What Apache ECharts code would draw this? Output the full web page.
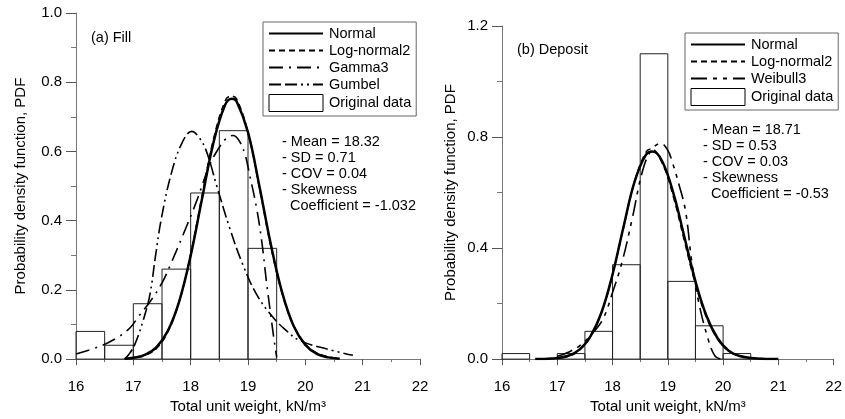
<!DOCTYPE html>
<html>
<head>
<meta charset="utf-8">
<script src="https://cdn.jsdelivr.net/npm/echarts@6/dist/echarts.min.js"></script>
<style>
  html, body { margin: 0; padding: 0; background: #fff; }
  #chart { width: 845px; height: 419px; }
</style>
</head>
<body>
<div id="chart"></div>
<script>
// histogram bins (kN/m3) and heights
const binStart = [16, 16.5, 17, 17.5, 18, 18.5, 19, 19.5, 20];
const binEnd = [16.5, 17, 17.5, 18, 18.5, 19, 19.5, 20, 20.5];
const fillHist = [0.08, 0.04, 0.16, 0.26, 0.48, 0.66, 0.32, 0, 0];
const depositHist = [0.02, 0, 0.02, 0.10, 0.34, 1.10, 0.28, 0.12, 0.02];

// (a) Fill curves
const fillNormal = [[16.85, 0.001], [17.0, 0.004], [17.2, 0.012], [17.4, 0.034], [17.6, 0.081], [17.8, 0.167],
  [18.0, 0.299], [18.2, 0.465], [18.4, 0.627], [18.6, 0.734], [18.72, 0.752], [18.8, 0.745], [19.0, 0.655],
  [19.2, 0.499], [19.4, 0.330], [19.6, 0.190], [19.8, 0.094], [20.0, 0.041], [20.2, 0.015], [20.4, 0.005], [20.6, 0.001]];
const fillLognormal = [[16.9, 0.001], [17.0, 0.003], [17.2, 0.010], [17.4, 0.030], [17.6, 0.078], [17.8, 0.166],
  [18.0, 0.303], [18.2, 0.473], [18.4, 0.637], [18.6, 0.746], [18.7, 0.760], [18.8, 0.752], [19.0, 0.655],
  [19.2, 0.494], [19.4, 0.324], [19.6, 0.187], [19.8, 0.095], [20.0, 0.043], [20.2, 0.018], [20.4, 0.007], [20.6, 0.002]];
const fillGamma = [[16.0, 0.015], [16.4, 0.036], [16.7, 0.060], [16.94, 0.090], [17.1, 0.125], [17.3, 0.168],
  [17.5, 0.220], [17.64, 0.270], [17.87, 0.360], [18.1, 0.455], [18.33, 0.560], [18.5, 0.612], [18.62, 0.637],
  [18.74, 0.646], [18.85, 0.630], [18.95, 0.590], [19.03, 0.531], [19.15, 0.436], [19.24, 0.340], [19.32, 0.226],
  [19.38, 0.149], [19.44, 0.073], [19.5, 0.005]];
const fillGumbel = [[16.85, 0.0], [16.95, 0.020], [17.03, 0.044], [17.17, 0.111], [17.29, 0.187], [17.38, 0.290],
  [17.49, 0.407], [17.67, 0.541], [17.85, 0.625], [18.02, 0.658], [18.15, 0.640], [18.28, 0.598], [18.45, 0.503],
  [18.68, 0.379], [18.91, 0.273], [19.15, 0.187], [19.44, 0.120], [19.67, 0.082], [19.9, 0.054], [20.4, 0.028],
  [20.83, 0.011]];

// (b) Deposit curves
const depNormal = [[16.6, 0.0], [16.9, 0.002], [17.2, 0.012], [17.4, 0.034], [17.6, 0.082], [17.8, 0.168],
  [18.0, 0.305], [18.2, 0.478], [18.4, 0.640], [18.6, 0.735], [18.73, 0.748], [18.9, 0.712], [19.1, 0.598],
  [19.3, 0.440], [19.5, 0.280], [19.7, 0.155], [19.9, 0.075], [20.1, 0.030], [20.3, 0.011], [20.6, 0.002], [21.0, 0.0]];
const depLognormal = [[16.9, 0.001], [17.2, 0.010], [17.4, 0.032], [17.6, 0.080], [17.8, 0.170], [18.0, 0.305],
  [18.2, 0.475], [18.4, 0.640], [18.6, 0.745], [18.7, 0.757], [18.9, 0.705], [19.1, 0.585], [19.3, 0.425],
  [19.5, 0.270], [19.7, 0.150], [19.9, 0.072], [20.1, 0.030], [20.3, 0.012], [20.6, 0.003], [21.0, 0.0]];
const depWeibull = [[17.0, 0.010], [17.2, 0.025], [17.4, 0.047], [17.6, 0.085], [17.82, 0.142], [18.0, 0.240],
  [18.18, 0.356], [18.36, 0.510], [18.54, 0.676], [18.7, 0.752], [18.87, 0.777], [19.0, 0.752], [19.08, 0.710],
  [19.2, 0.630], [19.32, 0.534], [19.43, 0.356], [19.55, 0.213], [19.73, 0.071], [19.85, 0.012], [19.95, 0.0]];

const xTicks = [16, 17, 18, 19, 20, 21, 22];

const FONT = 'Liberation Sans, Arial, sans-serif';
const chart = echarts.init(document.getElementById('chart'), null, { renderer: 'canvas' });

function histData(h) {
  const out = [];
  h.forEach((v, i) => { if (v > 0) out.push([binStart[i], binEnd[i], v]); });
  return out;
}

function renderBar(params, api) {
  const a = api.coord([api.value(0), api.value(2)]);
  const b = api.coord([api.value(1), 0]);
  return {
    type: 'rect',
    shape: { x: a[0], y: a[1], width: b[0] - a[0], height: b[1] - a[1] },
    style: { fill: 'none', stroke: '#222', lineWidth: 1 },
  };
}

function xAxis(idx) {
  return {
    type: 'value', gridIndex: idx, min: xTicks[0], max: xTicks[xTicks.length - 1], interval: 1,
    name: 'Total unit weight, kN/m³', nameLocation: 'middle', nameGap: 36,
    nameTextStyle: { fontFamily: FONT, fontSize: 15, color: '#000' },
    axisLine: { onZero: false, lineStyle: { color: '#777', width: 1 } },
    axisTick: { inside: false, length: 6, lineStyle: { color: '#555' } },
    minorTick: { show: true, splitNumber: 2, length: 3, lineStyle: { color: '#777' } },
    axisLabel: { fontFamily: FONT, fontSize: 15, color: '#000', margin: 20 },
    splitLine: { show: false },
  };
}

function yAxis(idx, max, step, gap) {
  return {
    type: 'value', gridIndex: idx, min: 0, max: max, interval: step,
    name: 'Probability density function, PDF', nameLocation: 'middle', nameGap: gap,
    nameTextStyle: { fontFamily: FONT, fontSize: 15, color: '#000' },
    axisLine: { show: true, lineStyle: { color: '#777', width: 1 } },
    axisTick: { show: true, inside: false, length: 10, lineStyle: { color: '#555' } },
    minorTick: { show: true, splitNumber: 2, length: 5, lineStyle: { color: '#777' } },
    axisLabel: { fontFamily: FONT, fontSize: 15, color: '#000', margin: 14, formatter: (v) => v.toFixed(1) },
    splitLine: { show: false },
  };
}

function curve(name, data, idx, type, width) {
  return {
    name: name, type: 'line', xAxisIndex: idx, yAxisIndex: idx, data: data,
    smooth: 0.4, symbol: 'none', z: 3,
    lineStyle: { color: '#000', width: width, type: type },
    itemStyle: { color: '#000' },
  };
}

function legend(left, top, names) {
  return {
    orient: 'vertical', left: left, top: top,
    data: names.map((n) => (n === 'Original data'
      ? { name: n, icon: 'rect', itemStyle: { color: '#fff', borderColor: '#000', borderWidth: 1, opacity: 1 } }
      : { name: n, itemStyle: { opacity: 0 } })),
    itemWidth: 54, itemHeight: 17, itemGap: 2,
    padding: [4, 5, 4, 5],
    borderColor: '#666', borderWidth: 1,
    textStyle: { fontFamily: FONT, fontSize: 14.5, color: '#000', padding: [0, 0, 0, 1] },
    selectedMode: false,
  };
}

const DASH = [6, 4];
const GAMMA = [14, 6, 2, 6];
const GUMBEL = [12, 4, 12, 4, 2, 4, 2, 4];
const WEIBULL = [16, 6, 4, 6, 4, 6];

const option = {
  backgroundColor: '#fff',
  animation: false,
  grid: [
    { left: 76, right: 425, top: 13, bottom: 57 },
    { left: 502, right: 8, top: 26, bottom: 56 },
  ],
  xAxis: [xAxis(0), xAxis(1)],
  yAxis: [yAxis(0, 1.0, 0.2, 48), yAxis(1, 1.2, 0.4, 44)],
  legend: [
    legend(263, 22, ['Normal', 'Log-normal2', 'Gamma3', 'Gumbel', 'Original data']),
    legend(685, 33, ['Normal', 'Log-normal2', 'Weibull3', 'Original data']),
  ],
  graphic: [
    { type: 'text', left: 91, top: 30, style: { text: '(a) Fill', font: '14.5px ' + FONT, fill: '#000' } },
    { type: 'text', left: 517, top: 42, style: { text: '(b) Deposit', font: '14.5px ' + FONT, fill: '#000' } },
    {
      type: 'text', left: 282, top: 134,
      style: { text: '- Mean = 18.32\n- SD = 0.71\n- COV = 0.04\n- Skewness\n  Coefficient = -1.032', font: '14.5px ' + FONT, fill: '#000', lineHeight: 16 },
    },
    {
      type: 'text', left: 703, top: 122,
      style: { text: '- Mean = 18.71\n- SD = 0.53\n- COV = 0.03\n- Skewness\n  Coefficient = -0.53', font: '14.5px ' + FONT, fill: '#000', lineHeight: 16 },
    },
  ],
  series: [
    {
      name: 'Original data', type: 'custom', xAxisIndex: 0, yAxisIndex: 0, data: histData(fillHist),
      encode: { x: [0, 1], y: 2 }, renderItem: renderBar, z: 1,
      itemStyle: { color: '#fff', borderColor: '#000', borderWidth: 1 },
    },
    curve('Normal', fillNormal, 0, 'solid', 2.5),
    curve('Log-normal2', fillLognormal, 0, DASH, 1.5),
    curve('Gamma3', fillGamma, 0, GAMMA, 1.6),
    curve('Gumbel', fillGumbel, 0, GUMBEL, 1.6),
    {
      name: 'Original data', type: 'custom', xAxisIndex: 1, yAxisIndex: 1, data: histData(depositHist),
      encode: { x: [0, 1], y: 2 }, renderItem: renderBar, z: 1,
      itemStyle: { color: '#fff', borderColor: '#000', borderWidth: 1 },
    },
    curve('Normal', depNormal, 1, 'solid', 2.5),
    curve('Log-normal2', depLognormal, 1, DASH, 1.5),
    curve('Weibull3', depWeibull, 1, WEIBULL, 1.6),
  ],
};

chart.setOption(option);
</script>
</body>
</html>
